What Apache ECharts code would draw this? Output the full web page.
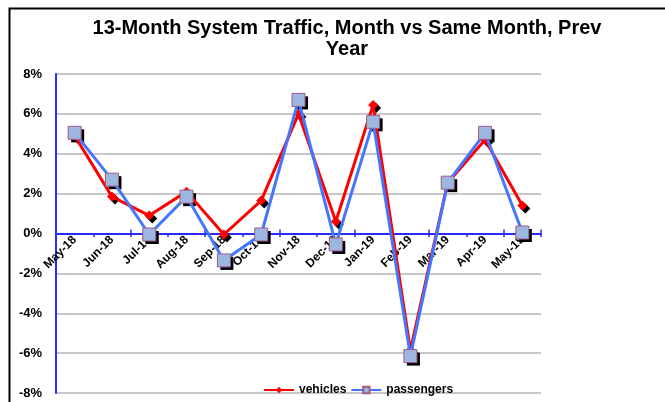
<!DOCTYPE html>
<html>
<head>
<meta charset="utf-8">
<script src="https://cdn.jsdelivr.net/npm/echarts@6/dist/echarts.min.js"></script>
<style>
  html, body { margin: 0; padding: 0; background: #fff; }
  #chart { width: 665px; height: 402px; }
</style>
</head>
<body>
<div id="chart"></div>
<script>
  var months = ['May-18', 'Jun-18', 'Jul-18', 'Aug-18', 'Sep-18', 'Oct-18', 'Nov-18',
                'Dec-18', 'Jan-19', 'Feb-19', 'Mar-19', 'Apr-19', 'May-19'];
  var vehicles = [4.9, 1.85, 0.9, 2.1, -0.05, 1.65, 6.0, 0.6, 6.45, -5.85, 2.55, 4.7, 1.4];
  var passengers = [5.05, 2.7, -0.05, 1.85, -1.35, -0.05, 6.7, -0.55, 5.6, -6.15, 2.55, 5.05, 0.05];
  var yTicks = [-8, -6, -4, -2, 0, 2, 4, 6, 8];

  var FONT = '"Liberation Sans", Arial, sans-serif';
  var BLUE_AXIS = '#2a2aff';
  var chart = echarts.init(document.getElementById('chart'));

  // plot is 319px tall for 16 units, zero sits 8 units above the bottom
  var zeroLift = -Math.round(319 * (0 - yTicks[0]) / (yTicks[yTicks.length - 1] - yTicks[0]));

  // black drop shadow behind each marker, drawn as its own series
  function shadowSeries(data, symbol, size, z) {
    return {
      type: 'line', data: data, z: z, silent: true,
      symbol: symbol, symbolSize: size, symbolOffset: [3, 3],
      showAllSymbol: true,
      lineStyle: { opacity: 0 },
      itemStyle: { color: '#000' },
      tooltip: { show: false }
    };
  }

  chart.setOption({
    animation: false,
    title: {
      text: '13-Month System Traffic, Month vs Same Month, Prev\nYear',
      left: 342, top: 13, textAlign: 'center',
      textStyle: { fontFamily: FONT, fontSize: 20, fontWeight: 'bold', color: '#000', lineHeight: 21 }
    },
    graphic: [{
      type: 'rect', left: 7, top: 6, silent: true,
      shape: { width: 680, height: 420 },
      style: { fill: 'none', stroke: '#000', lineWidth: 2 }
    }],
    legend: {
      left: 258, top: 379, itemWidth: 30, itemHeight: 8, itemGap: 4,
      textStyle: { fontFamily: FONT, fontSize: 12, fontWeight: 'bold', color: '#000' },
      data: ['vehicles', 'passengers']
    },
    grid: { left: 56, right: 124, top: 74, bottom: 9, outerBoundsMode: 'none' },
    xAxis: [
      {
        type: 'category',
        data: months,
        boundaryGap: true,
        axisLine: { onZero: true, lineStyle: { color: BLUE_AXIS, width: 2 } },
        axisTick: { show: true, length: 4, inside: true, lineStyle: { color: BLUE_AXIS, width: 1.5 } },
        axisLabel: { show: false },
        splitLine: { show: false }
      },
      {
        // label-only copy of the category axis, lifted onto the zero line
        type: 'category',
        data: months,
        boundaryGap: true,
        position: 'bottom',
        offset: zeroLift,
        axisLine: { show: false },
        axisTick: { show: true, length: 4, inside: false, lineStyle: { color: BLUE_AXIS, width: 1.5 } },
        axisLabel: {
          rotate: 45, margin: 5, interval: 0,
          fontFamily: FONT, fontSize: 12, fontWeight: 'bold', color: '#000'
        },
        splitLine: { show: false }
      }
    ],
    yAxis: {
      type: 'value',
      min: yTicks[0], max: yTicks[yTicks.length - 1], interval: 2,
      axisLine: { show: true, lineStyle: { color: BLUE_AXIS, width: 2 } },
      axisTick: { show: false },
      axisLabel: {
        margin: 14, fontFamily: FONT, fontSize: 13, fontWeight: 'bold', color: '#000',
        formatter: function (v) { return v + '%'; }
      },
      splitLine: { show: true, lineStyle: { color: '#b4b4b4', width: 1.5 } }
    },
    series: [
      shadowSeries(vehicles, 'diamond', 10, 2),
      shadowSeries(passengers, 'rect', 13, 2),
      {
        name: 'vehicles', type: 'line', data: vehicles, z: 3,
        symbol: 'diamond', symbolSize: 10,
        lineStyle: { color: '#ff0000', width: 3 },
        itemStyle: { color: '#ff0000' }
      },
      {
        name: 'passengers', type: 'line', data: passengers, z: 4,
        symbol: 'rect', symbolSize: 13,
        lineStyle: { color: '#4477ff', width: 3 },
        itemStyle: { color: '#9db8e0', borderColor: '#a05a8a', borderWidth: 1 }
      }
    ]
  });
</script>
</body>
</html>
